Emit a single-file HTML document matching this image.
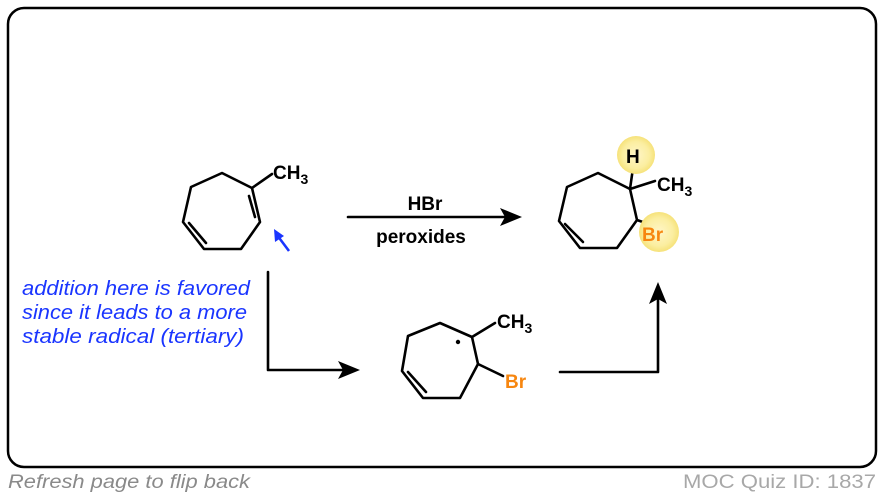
<!DOCTYPE html>
<html><head><meta charset="utf-8"><style>
html,body{margin:0;padding:0;background:#fff;width:884px;height:498px;overflow:hidden}
svg text{font-family:"Liberation Sans",Arial,sans-serif}
</style></head><body>
<svg width="884" height="498" viewBox="0 0 884 498" xmlns="http://www.w3.org/2000/svg">
<defs>
<radialGradient id="g"><stop offset="0" stop-color="#fff6c8"/><stop offset="0.7" stop-color="#fbeea0"/><stop offset="1" stop-color="#f6e27a"/></radialGradient>
</defs>
<rect x="8" y="8" width="868" height="459" rx="16" fill="#fff" stroke="#000" stroke-width="2.5"/>
<g stroke="#000" stroke-width="2.6" fill="none" stroke-linejoin="round" stroke-linecap="round">
<polygon points="222,173 252,188 260,222 241,249 204,249 183,222 191,187"/>
<line x1="249" y1="196" x2="255" y2="217"/>
<line x1="189" y1="223" x2="206" y2="243"/>
<line x1="252" y1="188" x2="272" y2="174"/>
<polygon points="598,173 630,189 637,220 617,248 580,248 559,221 567,187"/>
<line x1="565" y1="224" x2="583" y2="242"/>
<line x1="630" y1="189" x2="633" y2="168"/>
<line x1="630" y1="189" x2="655" y2="181"/>
<line x1="637" y1="220" x2="660" y2="228"/>
<polyline points="478,364 460,398 423,398 402,371 408,336 440,323 472,337 478,364"/>
<line x1="408" y1="372" x2="426" y2="392"/>
<line x1="472" y1="337" x2="495" y2="323"/>
<line x1="478" y1="364" x2="503" y2="376"/>
<line x1="348" y1="217" x2="508" y2="217"/>
<polyline points="268,272 268,370 345,370"/>
<polyline points="560,372 658,372 658,296"/>
</g>
<circle cx="636" cy="155" r="19" fill="url(#g)"/>
<circle cx="659" cy="232" r="20" fill="url(#g)"/>
<polygon points="522,217 500,208 505,217 500,226" fill="#000"/>
<polygon points="360,370 338,361 343,370 338,379" fill="#000"/>
<polygon points="658,282 649,304 658,299 667,304" fill="#000"/>
<line x1="289" y1="251" x2="277" y2="235" stroke="#1a35ff" stroke-width="2.6"/>
<polygon points="274,229 275,242 284,236" fill="#1a35ff"/>
<circle cx="458" cy="342" r="2.2" fill="#000"/>
<g font-weight="bold" font-size="19" fill="#000">
<text x="273" y="179">CH<tspan font-size="14" dy="5">3</tspan></text>
<text x="657" y="191">CH<tspan font-size="14" dy="5">3</tspan></text>
<text x="497" y="328">CH<tspan font-size="14" dy="5">3</tspan></text>
<text x="626" y="163">H</text>
<text x="642" y="241" fill="#f7860f">Br</text>
<text x="505" y="388" fill="#f7860f">Br</text>
<text x="425" y="210" text-anchor="middle">HBr</text>
<text x="421" y="243" text-anchor="middle">peroxides</text>
</g>
<g font-style="italic" font-size="20" fill="#1a35ff">
<text x="22" y="295" textLength="228" lengthAdjust="spacingAndGlyphs">addition here is favored</text>
<text x="22" y="319" textLength="225" lengthAdjust="spacingAndGlyphs">since it leads to a more</text>
<text x="22" y="343" textLength="222" lengthAdjust="spacingAndGlyphs">stable radical (tertiary)</text>
</g>
<text x="8" y="488" font-size="19" font-style="italic" fill="#8a8a8a" textLength="242" lengthAdjust="spacingAndGlyphs">Refresh page to flip back</text>
<text x="683" y="488" font-size="19" fill="#a8a8a8" textLength="193" lengthAdjust="spacingAndGlyphs">MOC Quiz ID: 1837</text>
</svg>
</body></html>
